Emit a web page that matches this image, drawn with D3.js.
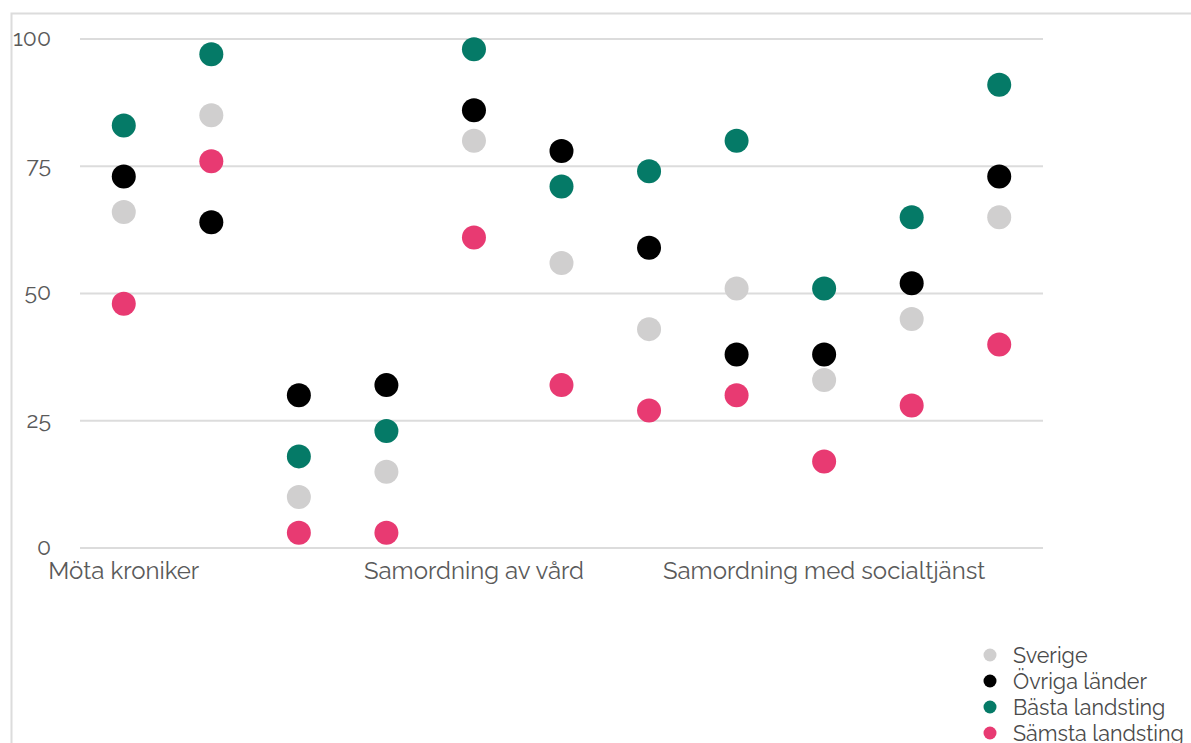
<!DOCTYPE html>
<html><head><meta charset="utf-8">
<script src="https://cdn.jsdelivr.net/npm/d3@7"></script>
<style>
html,body{margin:0;padding:0;background:#fff;}
svg{display:block;font-family:Raleway,Lato,"Open Sans",sans-serif;}
</style></head>
<body>
<svg id="chart" width="1191" height="743"></svg>
<script>
// categories (only some labels are visible in the reference)
const categories = ["Möta kroniker","","","","Samordning av vård","","","","Samordning med socialtjänst","",""];
const seriesNames = ["Sverige","Övriga länder","Bästa landsting","Sämsta landsting"];
const seriesColors = ["#d0cfcf","#000000","#057a67","#e83a72"];
const sverige  = [66,85,10,15,80,56,43,51,33,45,65];
const ovriga   = [73,64,30,32,86,78,59,38,38,52,73];
const basta    = [83,97,18,23,98,71,74,80,51,65,91];
const samsta   = [48,76,3,3,61,32,27,30,17,28,40];
const yTicks = [0,25,50,75,100];

const seriesValues = [sverige, ovriga, basta, samsta];
const svg = d3.select("#chart");

// frame
svg.append("path").attr("d","M11.5,743 V13.5 H1191").attr("fill","none").attr("stroke","#dcdcdc").attr("stroke-width",2);

const x = d3.scalePoint().domain(d3.range(categories.length)).range([80,1043]).padding(0.5);
const y = d3.scaleLinear().domain([0,100]).range([548,39]);

// grid
svg.append("g").selectAll("line").data(yTicks).join("line")
  .attr("x1",80).attr("x2",1043).attr("y1",d=>y(d)).attr("y2",d=>y(d))
  .attr("stroke","#dcdcdc").attr("stroke-width",2);

// y labels
svg.append("g").selectAll("text").data(yTicks).join("text")
  .attr("x",51).attr("y",d=>y(d)).attr("dy","0.3em").attr("text-anchor","end")
  .attr("fill","#5a5a5a").attr("font-size",23).text(d=>d);

// x labels
svg.append("g").selectAll("text").data(categories.map((c,i)=>({c,i})).filter(d=>d.c)).join("text")
  .attr("x",d=>x(d.i)).attr("y",579).attr("text-anchor","middle")
  .attr("fill","#5a5a5a").attr("font-size",24).text(d=>d.c);

// dots
seriesValues.forEach((vals,si)=>{
  svg.append("g").selectAll("circle").data(vals).join("circle")
    .attr("cx",(d,i)=>x(i)).attr("cy",d=>y(d)).attr("r",12).attr("fill",seriesColors[si]);
});

// legend
const lg = svg.append("g");
seriesNames.forEach((n,i)=>{
  const yy = 655 + i*26;
  lg.append("circle").attr("cx",990).attr("cy",yy).attr("r",6.5).attr("fill",seriesColors[i]);
  lg.append("text").attr("x",1013).attr("y",yy).attr("dy","0.35em").attr("fill","#4a4a4a").attr("font-size",21.5).text(n);
});
</script>
</body></html>
